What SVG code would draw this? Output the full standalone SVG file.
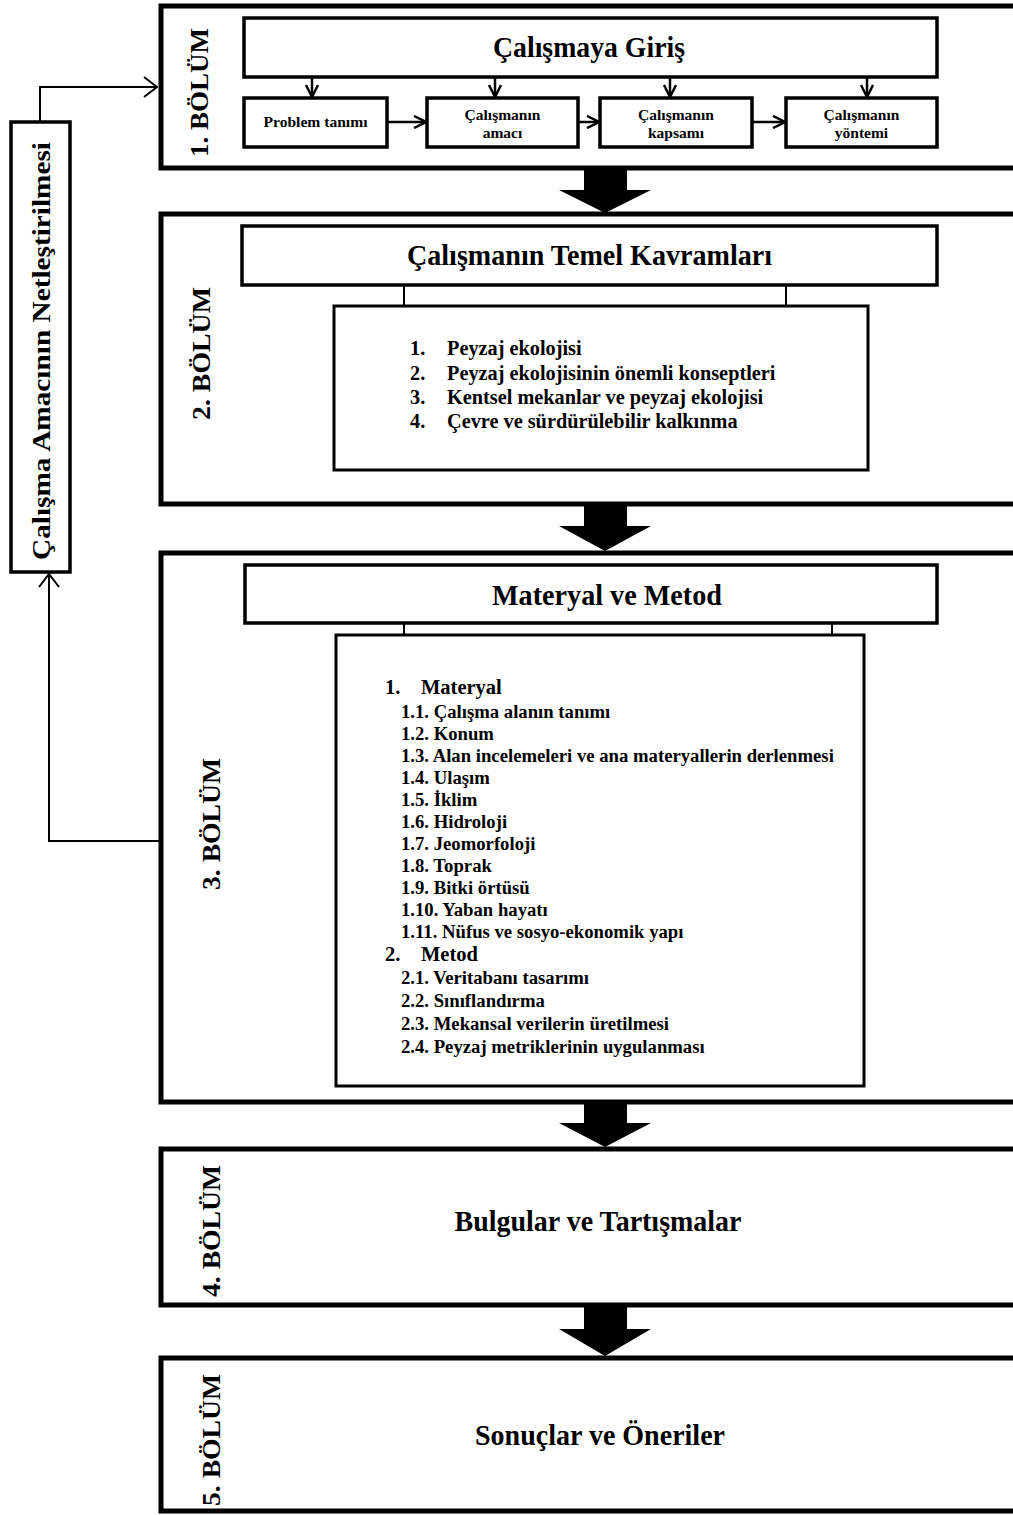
<svg xmlns="http://www.w3.org/2000/svg" width="1013" height="1515" viewBox="0 0 1013 1515">
<defs>
<style>
text{font-family:"Liberation Serif","Times New Roman",serif;font-weight:bold;fill:#000}
.sec{fill:#fff;stroke:#000;stroke-width:5}
.box{fill:#fff;stroke:#000;stroke-width:3.5}
.cbox{fill:#fff;stroke:#000;stroke-width:3}
.ln{fill:none;stroke:#000;stroke-width:2}
.ar{fill:none;stroke:#000;stroke-width:2.5}
.big{fill:#000}
.title{font-size:29px;text-anchor:middle}
.lbl{font-size:26px;text-anchor:middle}
.sub{font-size:15.5px;text-anchor:middle}
.l2{font-size:20.3px}
.l3{font-size:18.7px}
.l3h{font-size:20.5px}
</style>
<marker id="chev" viewBox="0 0 14 14" refX="13" refY="7" markerWidth="14" markerHeight="14" orient="auto" markerUnits="userSpaceOnUse">
<path d="M1,1 L13,7 L1,13" fill="none" stroke="#000" stroke-width="2.5"/>
</marker>
<marker id="chev2" viewBox="0 0 15 22" refX="14" refY="11" markerWidth="15" markerHeight="22" orient="auto" markerUnits="userSpaceOnUse">
<path d="M1,1 L14,11 L1,21" fill="none" stroke="#000" stroke-width="2"/>
</marker>
</defs>
<rect width="1013" height="1515" fill="#fff"/>

<g id="section1">
<rect class="sec" x="161" y="6" width="900" height="162"/>
<text class="lbl" transform="translate(208,92.5) rotate(-90)" textLength="129" lengthAdjust="spacingAndGlyphs">1. BÖLÜM</text>
</g>
<g id="giris">
<rect class="box" x="244" y="18" width="693" height="59"/>
<text class="title" x="589" y="57" textLength="192" lengthAdjust="spacingAndGlyphs">Çalışmaya Giriş</text>
</g>
<g id="problem">
<rect class="box" x="244" y="98" width="143" height="49"/>
<text class="sub" x="315.5" y="127" textLength="104" lengthAdjust="spacingAndGlyphs">Problem tanımı</text>
</g>
<g id="amaci">
<rect class="box" x="427" y="98" width="151" height="49"/>
<text class="sub" x="502.5" y="120">Çalışmanın</text>
<text class="sub" x="502.5" y="138">amacı</text>
</g>
<g id="kapsami">
<rect class="box" x="600" y="98" width="152" height="49"/>
<text class="sub" x="676" y="120">Çalışmanın</text>
<text class="sub" x="676" y="138">kapsamı</text>
</g>
<g id="yontemi">
<rect class="box" x="786" y="98" width="151" height="49"/>
<text class="sub" x="861.5" y="120">Çalışmanın</text>
<text class="sub" x="861.5" y="138">yöntemi</text>
</g>

<g id="section2">
<rect class="sec" x="161" y="214" width="900" height="290"/>
<text class="lbl" transform="translate(210,353.5) rotate(-90)" textLength="133" lengthAdjust="spacingAndGlyphs">2. BÖLÜM</text>
</g>
<g id="temel">
<rect class="box" x="242" y="226" width="695" height="59"/>
<text class="title" x="589.5" y="265" textLength="365" lengthAdjust="spacingAndGlyphs">Çalışmanın Temel Kavramları</text>
</g>
<g id="temel-list">
<rect class="cbox" x="334" y="306" width="534" height="164"/>
<text class="l2" x="410" y="355">1.</text><text class="l2" x="447" y="355">Peyzaj ekolojisi</text>
<text class="l2" x="410" y="380">2.</text><text class="l2" x="447" y="380">Peyzaj ekolojisinin önemli konseptleri</text>
<text class="l2" x="410" y="404">3.</text><text class="l2" x="447" y="404">Kentsel mekanlar ve peyzaj ekolojisi</text>
<text class="l2" x="410" y="428">4.</text><text class="l2" x="447" y="428">Çevre ve sürdürülebilir kalkınma</text>
</g>

<g id="section3">
<rect class="sec" x="161" y="553" width="900" height="549"/>
<text class="lbl" transform="translate(220,824) rotate(-90)" textLength="132" lengthAdjust="spacingAndGlyphs">3. BÖLÜM</text>
</g>
<g id="materyal">
<rect class="box" x="245" y="565" width="692" height="58"/>
<text class="title" x="607" y="605" textLength="230" lengthAdjust="spacingAndGlyphs">Materyal ve Metod</text>
</g>
<g id="materyal-list">
<rect class="cbox" x="336" y="635" width="528" height="451"/>
<text class="l3h" x="385" y="694">1.</text><text class="l3h" x="421" y="694">Materyal</text>
<text class="l3" x="401" y="718">1.1. Çalışma alanın tanımı</text>
<text class="l3" x="401" y="740">1.2. Konum</text>
<text class="l3" x="401" y="762">1.3. Alan incelemeleri ve ana materyallerin derlenmesi</text>
<text class="l3" x="401" y="784">1.4. Ulaşım</text>
<text class="l3" x="401" y="806">1.5. İklim</text>
<text class="l3" x="401" y="828">1.6. Hidroloji</text>
<text class="l3" x="401" y="850">1.7. Jeomorfoloji</text>
<text class="l3" x="401" y="872">1.8. Toprak</text>
<text class="l3" x="401" y="894">1.9. Bitki örtüsü</text>
<text class="l3" x="401" y="916">1.10. Yaban hayatı</text>
<text class="l3" x="401" y="938">1.11. Nüfus ve sosyo-ekonomik yapı</text>
<text class="l3h" x="385" y="961">2.</text><text class="l3h" x="421" y="961">Metod</text>
<text class="l3" x="401" y="984">2.1. Veritabanı tasarımı</text>
<text class="l3" x="401" y="1007">2.2. Sınıflandırma</text>
<text class="l3" x="401" y="1030">2.3. Mekansal verilerin üretilmesi</text>
<text class="l3" x="401" y="1053">2.4. Peyzaj metriklerinin uygulanması</text>
</g>

<g id="section4">
<rect class="sec" x="161" y="1149" width="900" height="156"/>
<text class="lbl" transform="translate(220,1231) rotate(-90)" textLength="132" lengthAdjust="spacingAndGlyphs">4. BÖLÜM</text>
<text class="title" x="598" y="1231" textLength="287" lengthAdjust="spacingAndGlyphs">Bulgular ve Tartışmalar</text>
</g>

<g id="section5">
<rect class="sec" x="161" y="1358" width="900" height="153"/>
<text class="lbl" transform="translate(220,1440) rotate(-90)" textLength="132" lengthAdjust="spacingAndGlyphs">5. BÖLÜM</text>
<text class="title" x="600" y="1445" textLength="250" lengthAdjust="spacingAndGlyphs">Sonuçlar ve Öneriler</text>
</g>

<g id="netlestirme">
<rect class="box" x="11" y="122" width="59" height="450"/>
<text class="lbl" transform="translate(50,351) rotate(-90)" textLength="418" lengthAdjust="spacingAndGlyphs">Çalışma Amacının Netleştirilmesi</text>
</g>

<g id="connectors">
<line class="ar" x1="312" y1="77" x2="312" y2="97" marker-end="url(#chev)"/>
<line class="ar" x1="495" y1="77" x2="495" y2="97" marker-end="url(#chev)"/>
<line class="ar" x1="670" y1="77" x2="670" y2="97" marker-end="url(#chev)"/>
<line class="ar" x1="867" y1="77" x2="867" y2="97" marker-end="url(#chev)"/>
<line class="ar" x1="387" y1="122" x2="426" y2="122" marker-end="url(#chev)"/>
<line class="ar" x1="578" y1="122" x2="599" y2="122" marker-end="url(#chev)"/>
<line class="ar" x1="752" y1="122" x2="785" y2="122" marker-end="url(#chev)"/>
<line class="ln" x1="404" y1="285" x2="404" y2="306"/>
<line class="ln" x1="786" y1="285" x2="786" y2="306"/>
<line class="ln" x1="404" y1="623" x2="404" y2="635"/>
<line class="ln" x1="832" y1="623" x2="832" y2="635"/>
<polyline class="ln" points="40,122 40,87 157,87" marker-end="url(#chev2)"/>
<polyline class="ln" points="160,841 49,841 49,574" marker-end="url(#chev2)"/>
<polygon class="big" points="584,168 627,168 627,190 651,190 605,213 559,190 584,190"/>
<polygon class="big" points="584,504 627,504 627,526 651,526 605,551 559,526 584,526"/>
<polygon class="big" points="584,1102 627,1102 627,1123 651,1123 605,1147 559,1123 584,1123"/>
<polygon class="big" points="584,1305 627,1305 627,1329 651,1329 605,1356 559,1329 584,1329"/>
</g>
</svg>
